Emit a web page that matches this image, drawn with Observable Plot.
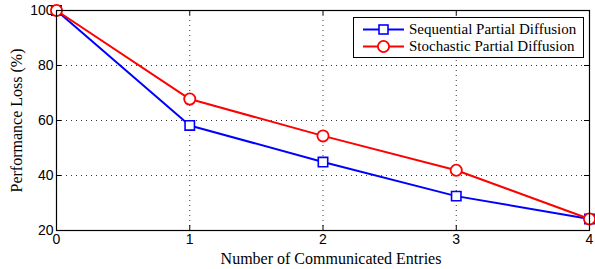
<!DOCTYPE html>
<html>
<head>
<meta charset="utf-8">
<script src="https://cdn.jsdelivr.net/npm/d3@7"></script>
<script src="https://cdn.jsdelivr.net/npm/@observablehq/plot@0.6"></script>
<style>
  html, body { margin: 0; padding: 0; background: #fff; }
  #wrap { position: relative; width: 595px; height: 269px; }
  #legend {
    position: absolute; left: 353px; top: 17px; width: 231px; height: 41px;
    border: 1px solid #000; background: #fff; box-sizing: border-box;
    font-family: "Liberation Serif", "Times New Roman", serif; font-size: 15px;
  }
  .row { position: absolute; left: 0; height: 17px; display: flex; align-items: center; }
  .row svg { display: block; }
  .row span { margin-left: 3px; white-space: nowrap; }
</style>
</head>
<body>
<div id="wrap"></div>
<script>
const entries = [0, 1, 2, 3, 4];
const sequential = [100, 58.2, 44.9, 32.5, 24.2];
const stochastic = [100, 67.8, 54.4, 41.9, 24.2];
const xTicks = [0, 1, 2, 3, 4];
const yTicks = [20, 40, 60, 80, 100];
const seriesNames = ["Sequential Partial Diffusion", "Stochastic Partial Diffusion"];
const seriesColors = ["#0000ff", "#ff0000"];

const seqData = entries.map((x, i) => ({x, y: sequential[i]}));
const stoData = entries.map((x, i) => ({x, y: stochastic[i]}));

const W = 595, H = 269, mT = 10, mB = 39, mL = 56, mR = 6;
const innerH = H - mT - mB, innerW = W - mL - mR;
const tick = 5;
const sans = "Liberation Sans, Arial, sans-serif";
const serif = "Liberation Serif, Times New Roman, serif";

const plot = Plot.plot({
  width: W, height: H,
  marginTop: mT, marginBottom: mB, marginLeft: mL, marginRight: mR,
  style: {background: "#fff", overflow: "visible"},
  x: {domain: [0, 4]},
  y: {domain: [20, 100]},
  marks: [
    Plot.gridX(xTicks.slice(1, -1), {stroke: "#000", strokeOpacity: 0.8, strokeDasharray: "1,4", strokeWidth: 1}),
    Plot.gridY(yTicks.slice(1, -1), {stroke: "#000", strokeOpacity: 0.8, strokeDasharray: "1,4", strokeWidth: 1}),
    Plot.tickX(xTicks, {x: d => d, insetTop: innerH - tick, stroke: "#000"}),
    Plot.tickX(xTicks, {x: d => d, insetBottom: innerH - tick, stroke: "#000"}),
    Plot.tickY(yTicks, {y: d => d, insetRight: innerW - tick, stroke: "#000"}),
    Plot.tickY(yTicks, {y: d => d, insetLeft: innerW - tick, stroke: "#000"}),
    Plot.axisX(xTicks, {tickSize: 0, tickPadding: 4, tickFormat: d3.format("d"),
      label: "Number of Communicated Entries", labelAnchor: "center", labelArrow: "none", labelOffset: 33}),
    Plot.axisY(yTicks, {tickSize: 0, tickPadding: 3, tickFormat: d3.format("d"),
      label: "Performance Loss (%)", labelAnchor: "center", labelArrow: "none", labelOffset: 46}),
    Plot.line(seqData, {x: "x", y: "y", stroke: seriesColors[0], strokeWidth: 2}),
    Plot.line(stoData, {x: "x", y: "y", stroke: seriesColors[1], strokeWidth: 2}),
    Plot.dot(seqData, {x: "x", y: "y", symbol: "square", r: 5.3, stroke: seriesColors[0], fill: "#fff", strokeWidth: 1.6}),
    Plot.dot(stoData, {x: "x", y: "y", symbol: "circle", r: 5.6, stroke: seriesColors[1], fill: "#fff", strokeWidth: 1.8}),
    Plot.frame({stroke: "#000", strokeWidth: 1.2})
  ]
});

plot.querySelectorAll("g[aria-label='x-axis tick label'] text, g[aria-label='y-axis tick label'] text").forEach(t => {
  t.style.fontFamily = sans; t.style.fontSize = "14px"; t.style.fill = "#000";
});
plot.querySelectorAll("g[aria-label='x-axis label'] text, g[aria-label='y-axis label'] text").forEach(t => {
  t.style.fontFamily = serif; t.style.fontSize = "16px"; t.style.fill = "#000";
});
const xl = plot.querySelector("g[aria-label='x-axis label'] text");
if (xl) xl.setAttribute("dx", "8");

const wrap = document.getElementById("wrap");
wrap.appendChild(plot);

const legend = document.createElement("div");
legend.id = "legend";
seriesNames.forEach((name, i) => {
  const row = document.createElement("div");
  row.className = "row";
  row.style.top = (3 + i * 17) + "px";
  const c = seriesColors[i];
  const marker = i === 0
    ? `<rect x="25" y="4" width="9" height="9" fill="#fff" stroke="${c}" stroke-width="1.6"/>`
    : `<circle cx="29.5" cy="8.5" r="5.6" fill="#fff" stroke="${c}" stroke-width="1.8"/>`;
  row.innerHTML = `<svg width="52" height="17"><line x1="9" x2="50" y1="8.5" y2="8.5" stroke="${c}" stroke-width="2"/>${marker}</svg><span>${name}</span>`;
  legend.appendChild(row);
});
wrap.appendChild(legend);
</script>
</body>
</html>
